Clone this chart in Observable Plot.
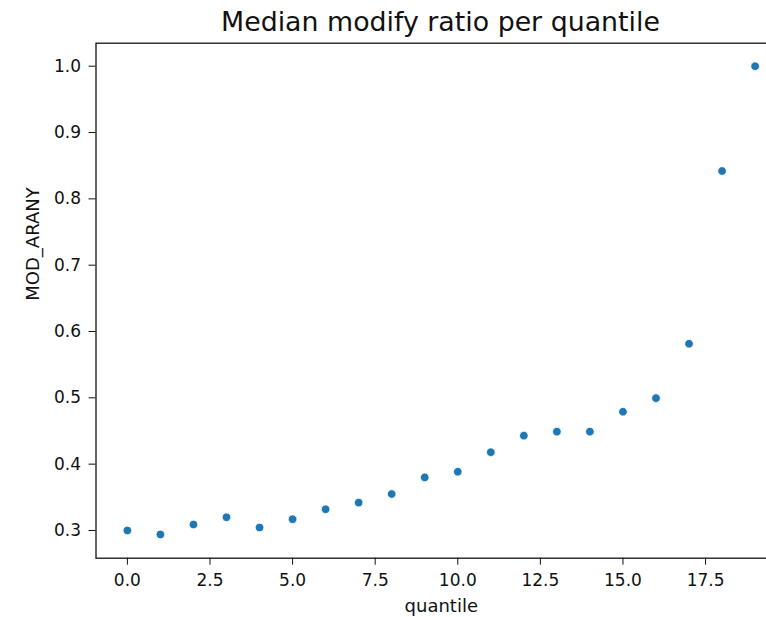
<!DOCTYPE html>
<html>
<head>
<meta charset="utf-8">
<script src="https://cdn.jsdelivr.net/npm/d3@7"></script>
<script src="https://cdn.jsdelivr.net/npm/@observablehq/plot@0.6"></script>
<style>
  html, body { margin: 0; padding: 0; background: #fff; overflow: hidden; width: 766px; height: 617px; }
  #title {
    box-sizing: border-box;
    height: 36px;
    padding-top: 9px;
    margin-left: 95.5px;
    width: 690px;
    text-align: center;
    white-space: nowrap;
    font-family: "DejaVu Sans", sans-serif;
    font-size: 26.8px;
    line-height: 26px;
    color: #111;
  }
  #chart svg { overflow: hidden; }
</style>
</head>
<body>
<div id="title">Median modify ratio per quantile</div>
<div id="chart"></div>
<script>
const quantiles = [0, 1, 2, 3, 4, 5, 6, 7, 8, 9, 10, 11, 12, 13, 14, 15, 16, 17, 18, 19];
const modArany = [0.300, 0.294, 0.309, 0.320, 0.3045, 0.317, 0.332, 0.342, 0.355, 0.380,
                  0.3885, 0.418, 0.443, 0.449, 0.449, 0.479, 0.4995, 0.5815, 0.842, 1.000];
const xTicks = [0, 2.5, 5, 7.5, 10, 12.5, 15, 17.5];
const yTicks = [0.3, 0.4, 0.5, 0.6, 0.7, 0.8, 0.9, 1.0];
const xDomain = [-0.95, 19.95];
const yDomain = [0.2582, 1.0347];
const title = "Median modify ratio per quantile";
const xLabel = "quantile";
const yLabel = "MOD_ARANY";

const data = quantiles.map((q, i) => ({quantile: q, value: modArany[i]}));

const chart = Plot.plot({
  width: 766,
  height: 581,
  marginLeft: 95.5,
  marginRight: -20,
  marginTop: 6.7,
  marginBottom: 59.3,
  style: {fontFamily: "DejaVu Sans, sans-serif", fontSize: "17px", color: "#111", background: "#fff", overflow: "hidden"},
  x: {domain: xDomain, ticks: xTicks, tickFormat: d3.format(".1f"), tickSize: 7, tickPadding: 9, label: null},
  y: {domain: yDomain, ticks: yTicks, tickFormat: d3.format(".1f"), tickSize: 7, tickPadding: 8, label: null},
  marks: [
    Plot.frame({stroke: "#111", strokeWidth: 1.3}),
    Plot.dot(data, {x: "quantile", y: "value", r: 4.3, fill: "#1f77b4", stroke: "#fff", strokeWidth: 0.8}),
    Plot.text([xLabel], {frameAnchor: "bottom", dy: 54, lineAnchor: "bottom", fontSize: 18, fill: "#111", text: d => d}),
    Plot.text([yLabel], {frameAnchor: "left", rotate: -90, dx: -62.5, fontSize: 18, fill: "#111", text: d => d})
  ]
});
document.getElementById("chart").appendChild(chart);
</script>
</body>
</html>
